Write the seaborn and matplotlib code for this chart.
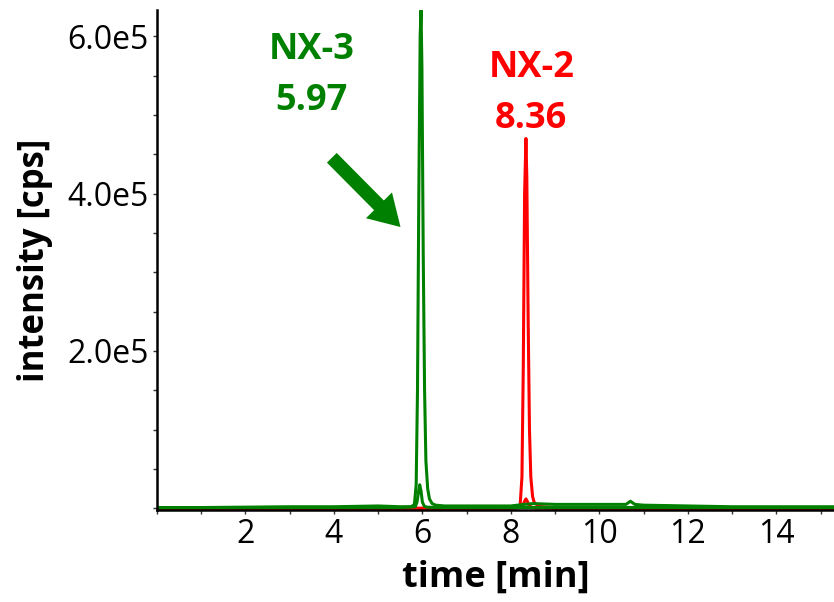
import matplotlib
matplotlib.use('Agg')
import matplotlib.pyplot as plt
import seaborn as sns
import pandas as pd

# Chromatogram traces (time in min, intensity in 1e5 cps)
t_nx3 = [0.0, 1.0, 2.0, 3.0, 4.0, 5.0, 5.5, 5.75, 5.82, 5.86, 5.89, 5.92, 5.95, 5.97,
         5.99, 6.02, 6.05, 6.08, 6.12, 6.16, 6.22, 6.3, 6.5, 7.0, 8.0, 8.3, 8.5, 9.0,
         10.0, 10.6, 10.7, 10.8, 11.0, 12.0, 13.0, 14.0, 15.3]
i_nx3 = [0.01, 0.01, 0.015, 0.02, 0.02, 0.03, 0.02, 0.02, 0.05, 0.3, 1.5, 4.0, 6.0, 6.33,
         5.6, 3.2, 1.5, 0.6, 0.25, 0.12, 0.06, 0.04, 0.03, 0.03, 0.03, 0.05, 0.06, 0.05,
         0.05, 0.05, 0.09, 0.05, 0.04, 0.03, 0.02, 0.02, 0.02]

t_nx3_low = [0.0, 3.0, 5.5, 5.84, 5.88, 5.91, 5.94, 5.97, 6.0, 6.04, 6.1, 6.3, 8.0, 10.0, 12.0, 15.3]
i_nx3_low = [0.005, 0.01, 0.01, 0.02, 0.08, 0.2, 0.3, 0.22, 0.08, 0.03, 0.015, 0.01, 0.01, 0.01, 0.01, 0.01]

t_nx2 = [0.0, 2.0, 4.0, 6.0, 7.0, 8.0, 8.15, 8.21, 8.25, 8.28, 8.31, 8.34, 8.36, 8.39,
         8.42, 8.45, 8.49, 8.53, 8.6, 8.7, 9.0, 10.0, 11.0, 12.0, 13.0, 14.0, 15.3]
i_nx2 = [0.0, 0.0, 0.0, 0.0, 0.0, 0.01, 0.02, 0.05, 0.4, 1.8, 4.0, 4.7, 4.2, 2.4,
         1.0, 0.4, 0.15, 0.07, 0.04, 0.02, 0.01, 0.01, 0.0, 0.0, 0.0, 0.0, 0.0]

t_nx2_low = [0.0, 4.0, 8.0, 8.22, 8.27, 8.31, 8.34, 8.37, 8.41, 8.46, 8.55, 9.0, 12.0, 15.3]
i_nx2_low = [0.0, 0.0, 0.0, 0.01, 0.04, 0.09, 0.12, 0.09, 0.04, 0.015, 0.005, 0.0, 0.0, 0.0]

x_ticks = [0, 2, 4, 6, 8, 10, 12, 14]
x_ticklabels = ['', '2', '4', '6', '8', '10', '12', '14']
y_ticks = [0, 2e5, 4e5, 6e5]
y_ticklabels = ['', '2.0e5', '4.0e5', '6.0e5']

green = '#008000'
red = '#ff0000'

sns.set_style('ticks')
plt.rcParams['font.family'] = ['Open Sans', 'DejaVu Sans']

fig = plt.figure(figsize=(8.34, 6.02), dpi=100)
ax = fig.add_axes([0.188, 0.153, 0.812, 0.830])

traces = [
    (t_nx2_low, i_nx2_low, red),
    (t_nx2, i_nx2, red),
    (t_nx3_low, i_nx3_low, green),
    (t_nx3, i_nx3, green),
]
for t, i, c in traces:
    df = pd.DataFrame({'time': t, 'intensity': [v * 1e5 for v in i]})
    sns.lineplot(data=df, x='time', y='intensity', color=c, lw=2.2,
                 estimator=None, sort=False, ax=ax)

ax.set_xlim(0, 15.3)
ax.set_ylim(-0.02e5, 6.33e5)
ax.set_xticks(x_ticks)
ax.set_xticklabels(x_ticklabels)
ax.set_xticks([1, 3, 5, 7, 9, 11, 13, 15], minor=True)
ax.set_yticks(y_ticks)
ax.set_yticklabels(y_ticklabels)
ax.set_yticks([k * 0.5e5 for k in range(13) if k % 4 != 0], minor=True)
ax.tick_params(axis='both', which='major', labelsize=23, length=3, width=1,
               color='#333333', labelcolor='black', pad=3)
ax.tick_params(axis='both', which='minor', length=3, width=1, color='#333333')

for side in ['top', 'right']:
    ax.spines[side].set_visible(False)
for side in ['left', 'bottom']:
    ax.spines[side].set_linewidth(1.8)
    ax.spines[side].set_color('black')

ax.set_xlabel('time [min]', fontsize=26, fontweight='bold', labelpad=6, color='black')
ax.set_ylabel('intensity [cps]', fontsize=25, fontweight='bold', labelpad=10, color='black')

ax.text(3.50, 5.82e5, 'NX-3', color=green, fontsize=26, fontweight='bold', ha='center', va='center')
ax.text(3.50, 5.18e5, '5.97', color=green, fontsize=26, fontweight='bold', ha='center', va='center')
ax.text(8.46, 5.60e5, 'NX-2', color=red, fontsize=26, fontweight='bold', ha='center', va='center')
ax.text(8.46, 4.95e5, '8.36', color=red, fontsize=26, fontweight='bold', ha='center', va='center')

ax.annotate('', xy=(5.55, 3.55e5), xytext=(3.91, 4.48e5),
            arrowprops=dict(arrowstyle='simple,head_length=1.0,head_width=1.2,tail_width=0.45',
                            color=green, lw=0, mutation_scale=22))

fig.savefig('out.png', dpi=100)
